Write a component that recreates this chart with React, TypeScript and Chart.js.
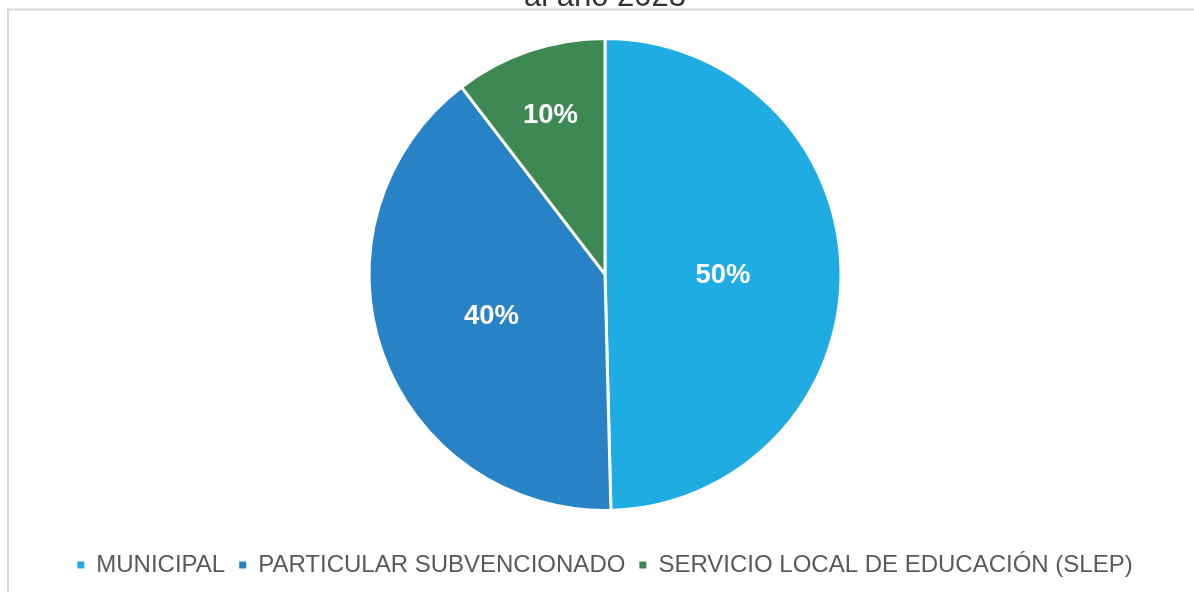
import React, { useEffect, useRef } from "react";
import { Chart, registerables } from "chart.js";

Chart.register(...registerables);

// ---- data ----
const categories = [
  "MUNICIPAL",
  "PARTICULAR SUBVENCIONADO",
  "SERVICIO LOCAL DE EDUCACIÓN (SLEP)",
];
const shares = [49.6, 40.0, 10.4];
const percentLabels = ["50%", "40%", "10%"];
const titleText = "al año 2023";
const sliceColors = ["#1FACE3", "#2882C6", "#3E8953"];

// ---- layout constants (not data) ----
const TOP_SHIFT = 40;
const BOTTOM_EXTRA = 20;
const W = 1194;
const H = 592 + TOP_SHIFT + BOTTOM_EXTRA;
const FONT = "'Liberation Sans', Arial, Helvetica, sans-serif";
const labelRadiusFrac = [0.5, 0.51, 0.72];

const borderPlugin = {
  id: "outerBorder",
  beforeDraw(chart: any) {
    const ctx = chart.ctx;
    ctx.save();
    ctx.strokeStyle = "#D9D9D9";
    ctx.lineWidth = 2;
    ctx.strokeRect(8, 9.5 + TOP_SHIFT, 3000, 3000);
    ctx.restore();
  },
};

const sliceLabelPlugin = {
  id: "sliceLabels",
  afterDatasetsDraw(chart: any) {
    const ctx = chart.ctx;
    const meta = chart.getDatasetMeta(0);
    ctx.save();
    ctx.fillStyle = "#FFFFFF";
    ctx.font = `bold 27.5px ${FONT}`;
    ctx.textAlign = "center";
    ctx.textBaseline = "middle";
    meta.data.forEach((arc: any, i: number) => {
      const p = arc.getProps(["x", "y", "startAngle", "endAngle", "outerRadius"], true);
      const mid = (p.startAngle + p.endAngle) / 2;
      const r = p.outerRadius * labelRadiusFrac[i];
      ctx.fillText(percentLabels[i], p.x + Math.cos(mid) * r, p.y + Math.sin(mid) * r + 2);
    });
    ctx.restore();
  },
};

export default function App() {
  const canvasRef = useRef<HTMLCanvasElement | null>(null);

  useEffect(() => {
    if (!canvasRef.current) return;
    const chart = new Chart(canvasRef.current, {
      type: "pie",
      data: {
        labels: categories,
        datasets: [
          {
            data: shares,
            backgroundColor: sliceColors,
            borderColor: "#FFFFFF",
            borderWidth: 3,
            radius: 236,
          },
        ],
      },
      options: {
        animation: false,
        responsive: true,
        maintainAspectRatio: false,
        layout: { padding: { left: 16, right: 0, top: 0, bottom: 25 } },
        plugins: {
          title: {
            display: true,
            text: titleText,
            color: "#333333",
            font: { family: FONT, size: 31, weight: "normal" },
            padding: { top: 18.7, bottom: -6 },
          },
          legend: {
            display: true,
            position: "bottom",
            labels: {
              boxWidth: 7,
              boxHeight: 7,
              padding: 14,
              color: "#595959",
              font: { family: FONT, size: 24 },
              generateLabels: () =>
                categories.map((c, i) => ({
                  text: c,
                  fillStyle: sliceColors[i],
                  strokeStyle: sliceColors[i],
                  lineWidth: 0,
                  hidden: false,
                  index: i,
                  fontColor: "#595959",
                })),
            },
          },
          tooltip: { enabled: false },
        },
      },
      plugins: [borderPlugin, sliceLabelPlugin],
    });
    return () => chart.destroy();
  }, []);

  return (
    <div
      style={{
        position: "fixed",
        left: 0,
        top: -TOP_SHIFT,
        width: W,
        height: H,
        background: "#FFFFFF",
      }}
    >
      <canvas ref={canvasRef} />
    </div>
  );
}
